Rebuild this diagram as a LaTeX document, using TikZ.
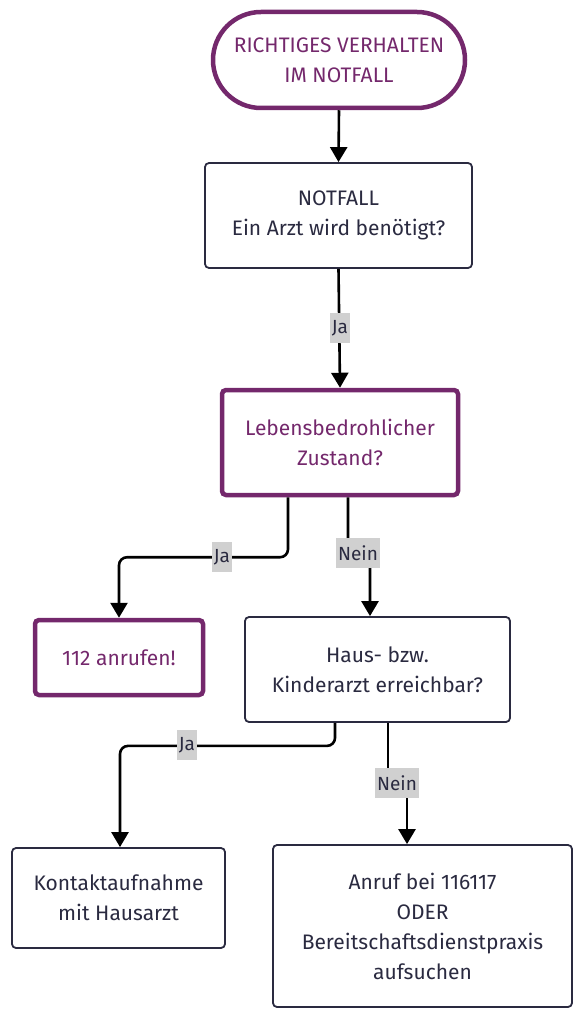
\documentclass[tikz,border=0pt]{standalone}
\usepackage{fontspec}
\setmainfont{Fira Sans}
\usepackage{xcolor}
\usetikzlibrary{arrows.meta}

\definecolor{lila}{RGB}{116,40,108}
\definecolor{ink}{RGB}{42,42,64}
\definecolor{tag}{RGB}{208,208,208}

\tikzset{
  box/.style={draw=ink,line width=1.8pt,rounded corners=4pt,align=center,text=ink,inner sep=0pt,font=\fontsize{21}{30}\selectfont},
  hot/.style={box,draw=lila,text=lila,line width=4.5pt},
  conn/.style={line width=2.6pt,draw=black,-{Triangle[width=17pt,length=15pt]},rounded corners=8pt},
  lbl/.style={fill=tag,text=ink,inner xsep=2pt,inner ysep=7pt,font=\fontsize{19}{20}\selectfont}
}

\begin{document}
\begin{tikzpicture}[x=1pt,y=1pt,yscale=-1,xscale=1]
\useasboundingbox (0,0) rectangle (585,1024);

% Text Node
\node [hot,minimum width=252,minimum height=96,rounded corners=48pt] (start) at (339,60) {RICHTIGES VERHALTEN\\IM NOTFALL};
% Text Node
\node [box,minimum width=267,minimum height=105] (arzt) at (338.5,215.5) {NOTFALL\\Ein Arzt wird benötigt?};
% Text Node
\node [hot,minimum width=236,minimum height=105] (leben) at (340,442.5) {Lebensbedrohlicher\\Zustand?};
% Text Node
\node [hot,minimum width=168,minimum height=75] (ruf) at (119,657.5) {112 anrufen!};
% Text Node
\node [box,minimum width=265,minimum height=105] (haus) at (377.5,669.5) {Haus- bzw.\\Kinderarzt erreichbar?};
% Text Node
\node [box,minimum width=213,minimum height=100] (kontakt) at (118.5,898) {Kontaktaufnahme\\mit Hausarzt};
% Text Node
\node [box,minimum width=299,minimum height=162] (dienst) at (422.5,926) {Anruf bei 116117\\ODER\\Bereitschaftsdienstpraxis\\aufsuchen};

%Straight Lines
\draw [conn] (start.south) -- (arzt.north);
%Straight Lines
\draw [conn] (arzt.south) -- (leben.north);
\node [lbl] (ja1) at (340,328) {Ja};
%Straight Lines
\draw [conn] ([xshift=-52pt]leben.south) -- ++(0,60) -| (ruf.north);
\node [lbl] (ja2) at (222,557) {Ja};
%Straight Lines
\draw [conn] ([xshift=8pt]leben.south) -- ++(0,58) -| ([xshift=-7.5pt]haus.north);
\node [lbl] (nein1) at (358,553) {Nein};
%Straight Lines
\draw [conn] ([xshift=-42.5pt]haus.south) -- ++(0,23) -| ([xshift=1.5pt]kontakt.north);
\node [lbl] (ja3) at (187,745) {Ja};
%Straight Lines
\draw [conn,rounded corners=0pt] ([xshift=10.5pt]haus.south) -- ++(0,61) -| ([xshift=-15.5pt]dienst.north);
\node [lbl] (nein2) at (397,783) {Nein};
\end{tikzpicture}
\end{document}
